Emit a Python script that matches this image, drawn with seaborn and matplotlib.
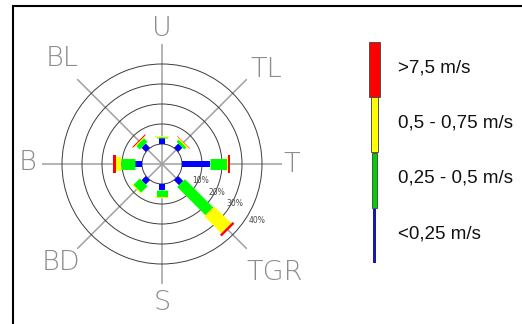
import numpy as np
import pandas as pd
import matplotlib
matplotlib.use("Agg")
import matplotlib.pyplot as plt
from matplotlib.patches import Rectangle
import seaborn as sns

# ---------------- data ----------------
directions = ["U", "TL", "T", "TGR", "S", "BD", "B", "BL"]
dir_angles = [0, 45, 90, 135, 180, 225, 270, 315]
classes = ["<0,25 m/s", "0,25 - 0,5 m/s", "0,5 - 0,75 m/s", ">7,5 m/s"]
# frequency (%) per direction for each speed class
freq_c1 = [3.0, 3.0, 14.0, 3.5, 3.0, 3.0, 3.5, 3.0]
freq_c2 = [0.5, 1.5, 8.3, 20.0, 3.3, 4.5, 7.0, 2.5]
freq_c3 = [0.3, 0.7, 0.8, 12.0, 0.6, 0.5, 2.5, 0.5]
freq_c4 = [0.0, 0.2, 0.8, 1.2, 0.0, 0.0, 1.3, 0.5]
ring_labels = ["10%", "20%", "30%", "40%"]

colors = ["#0000ff", "#00ff00", "#ffff00", "#ff0000"]
legend_colors = ["#1a1aa8", "#00d000", "#ffff00", "#ff0000"]
bar_px = [6, 11, 14, 18]          # rose segment widths (pixels)
legend_px = [2.5, 5, 7.5, 11]     # legend bar widths (pixels)

calm = 10  # inner circle offset (radial units)

# ---------------- build long table ----------------
rows = []
series = [freq_c1, freq_c2, freq_c3, freq_c4]
seg = 0
for i, ang in enumerate(dir_angles):
    cum = 0.0
    for k, cls in enumerate(classes):
        v = series[k][i]
        if v > 0:
            th = np.deg2rad(ang)
            rows.append(dict(seg=seg, theta=th, r=calm + cum, cls=cls))
            rows.append(dict(seg=seg, theta=th, r=calm + cum + v, cls=cls))
            seg += 1
        cum += v
df = pd.DataFrame(rows)

# ---------------- figure ----------------
sns.set_theme(style="white")
plt.rcParams["font.family"] = ["DejaVu Sans"]
plt.rcParams["lines.solid_capstyle"] = "butt"

W, H = 522, 324
fig = plt.figure(figsize=(W / 100, H / 100), dpi=100)
fig.patch.set_facecolor("white")

cx, cy, R = 162, 164, 120
ax = fig.add_axes([(cx - R) / W, (H - cy - R) / H, 2 * R / W, 2 * R / H],
                  projection="polar")
ax.set_theta_zero_location("N")
ax.set_theta_direction(-1)
ax.set_facecolor("none")

pt = 0.72  # points per pixel at 100 dpi
sns.lineplot(data=df, x="theta", y="r", hue="cls", size="cls", units="seg",
             estimator=None, sort=False, hue_order=classes, size_order=classes,
             palette=dict(zip(classes, colors)),
             sizes=dict(zip(classes, [w * pt for w in bar_px])),
             legend=False, ax=ax)

ax.set_ylim(0, 60)
ax.set_rgrids([10, 20, 30, 40, 50], labels=[""] * 5)
ax.set_thetagrids(dir_angles, labels=[""] * 8)
ax.xaxis.grid(True, color="#a0a0a0", lw=1.1)
ax.yaxis.grid(True, color="#3c3c3c", lw=0.7)
ax.set_axisbelow(True)
ax.spines["polar"].set_visible(False)
ax.set_xlabel("")
ax.set_ylabel("")

# direction labels
lab_ang = [0, 47.8, 90, 134, 180, 225.7, 270.5, 316.7]
lab_r = [68, 70.5, 65, 78, 69, 70.5, 67.3, 72.5]
for name, a, r in zip(directions, lab_ang, lab_r):
    ax.text(np.deg2rad(a), r, name, ha="center", va="center", fontsize=19.5,
            color="#8c8c8c", fontweight="ultralight", clip_on=False)

# ring labels
ring_ang = [112.3, 117.7, 118.3, 120.9]
ring_r = [21.1, 30.9, 41.5, 55.2]
for t, a, r in zip(ring_labels, ring_ang, ring_r):
    ax.text(np.deg2rad(a), r, t, ha="center", va="center", fontsize=5.5,
            color="#4a4a4a", clip_on=False)

# ---------------- legend bar ----------------
lx, ltop, lbot = 374.5, 42, 263
lax = fig.add_axes([(lx - 15) / W, (H - lbot) / H, 30 / W, (lbot - ltop) / H])
lax.set_xlim(-15, 15)
lax.set_ylim(0, 4)
lax.axis("off")
for k, cls in enumerate(classes):
    lax.bar(0, 1, width=legend_px[k], bottom=k, color=legend_colors[k],
            edgecolor="#505050" if k > 0 else legend_colors[k],
            linewidth=0.7 if k > 0 else 0)
    lax.text(23.5, k + 0.53, cls, ha="left", va="center", fontsize=13.5,
             color="#111111", family="Liberation Sans", clip_on=False)

# frame
fig.add_artist(Rectangle((13 / W, -0.5), 1.5, (H - 6) / H + 0.5,
                         transform=fig.transFigure, fill=False,
                         edgecolor="black", lw=1.5))

fig.savefig("out.png", dpi=100)
